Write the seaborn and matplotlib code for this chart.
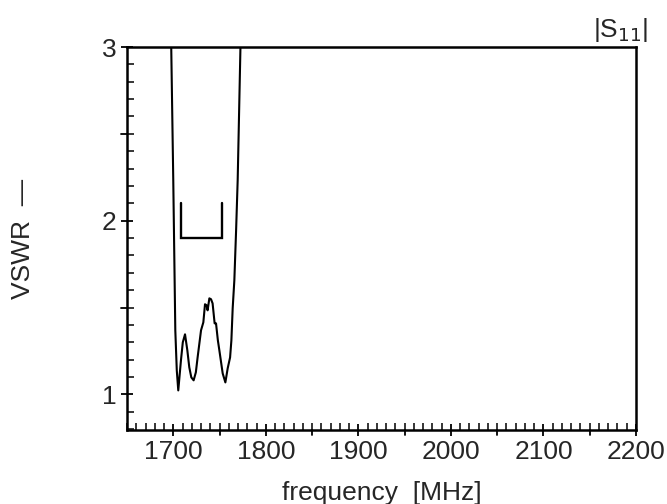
import matplotlib
matplotlib.use("Agg")
import matplotlib.pyplot as plt
import seaborn as sns
import numpy as np
import pandas as pd
from matplotlib.ticker import MultipleLocator, FixedLocator

# Data
freq_mhz = [1697.8, 1700.0, 1702.2, 1703.8, 1705.4, 1708.3, 1710.3, 1712.7, 1715.2,
            1717.3, 1719.5, 1722.0, 1724.4, 1726.3, 1730.0, 1732.5, 1734.3, 1736.0,
            1737.1, 1739.0, 1740.8, 1742.5, 1744.7, 1746.2, 1748.2, 1749.8, 1753.4,
            1756.3, 1758.8, 1761.4, 1762.8, 1764.2, 1766.0, 1767.9, 1769.6, 1772.6]
vswr = [3.0, 2.233, 1.369, 1.138, 1.023, 1.196, 1.300, 1.346, 1.254,
        1.156, 1.098, 1.081, 1.127, 1.213, 1.369, 1.415, 1.519, 1.513,
        1.484, 1.553, 1.548, 1.524, 1.409, 1.409, 1.311, 1.254, 1.121,
        1.069, 1.150, 1.213, 1.311, 1.496, 1.657, 1.945, 2.233, 3.0]

# band bracket marker
bracket_f = [1708.7, 1708.7, 1753.0, 1753.0]
bracket_v = [2.10, 1.90, 1.90, 2.10]

x_ticks = [1700, 1800, 1900, 2000, 2100, 2200]
y_ticks = [1, 2, 3]

sns.set_style("ticks")
plt.rcParams['font.family'] = ['Liberation Sans', 'DejaVu Sans']

fig = plt.figure(figsize=(6.67, 5.04), dpi=100)
ax = fig.add_axes([0.1904, 0.1468, 0.9535 - 0.1904, 0.9067 - 0.1468])

df = pd.DataFrame({"f": freq_mhz, "v": vswr})
sns.lineplot(data=df, x="f", y="v", color="black", lw=1.5, ax=ax, sort=False)
ax.plot(bracket_f, bracket_v, color="black", lw=1.7, solid_joinstyle="miter")

ax.set_xlim(1650, 2200)
ax.set_ylim(0.795, 3.0)

for s in ax.spines.values():
    s.set_linewidth(1.8)
    s.set_color("black")

ax.xaxis.set_major_locator(FixedLocator(x_ticks))
ax.xaxis.set_minor_locator(MultipleLocator(10))
ax.set_xticklabels([str(t) for t in x_ticks])
ax.yaxis.set_major_locator(FixedLocator(y_ticks))
ax.yaxis.set_minor_locator(MultipleLocator(0.1))
ax.set_yticklabels([str(t) for t in y_ticks])

ax.tick_params(axis="both", which="major", direction="inout", length=9, width=1.3,
               labelsize=19, pad=3, color="black")
ax.tick_params(axis="both", which="minor", direction="in", length=5, width=1.1, color="black")

# half-decade ticks (outward)
for xv in [1750, 1850, 1950, 2050, 2150]:
    ax.plot([xv, xv], [0, -0.014], transform=ax.get_xaxis_transform(), color="black",
            lw=1.3, clip_on=False)
for yv in [1.5, 2.5]:
    ax.plot([0, -0.012], [yv, yv], transform=ax.get_yaxis_transform(), color="black",
            lw=1.3, clip_on=False)

ax.set_xlabel("frequency  [MHz]", fontsize=19, labelpad=12)
ax.set_ylabel("VSWR  \u2014", fontsize=19, labelpad=48)
ax.text(1.025, 1.008, "|S$_{11}$|", transform=ax.transAxes, ha="right", va="bottom",
        fontsize=19)

fig.savefig("out.png", dpi=100)
